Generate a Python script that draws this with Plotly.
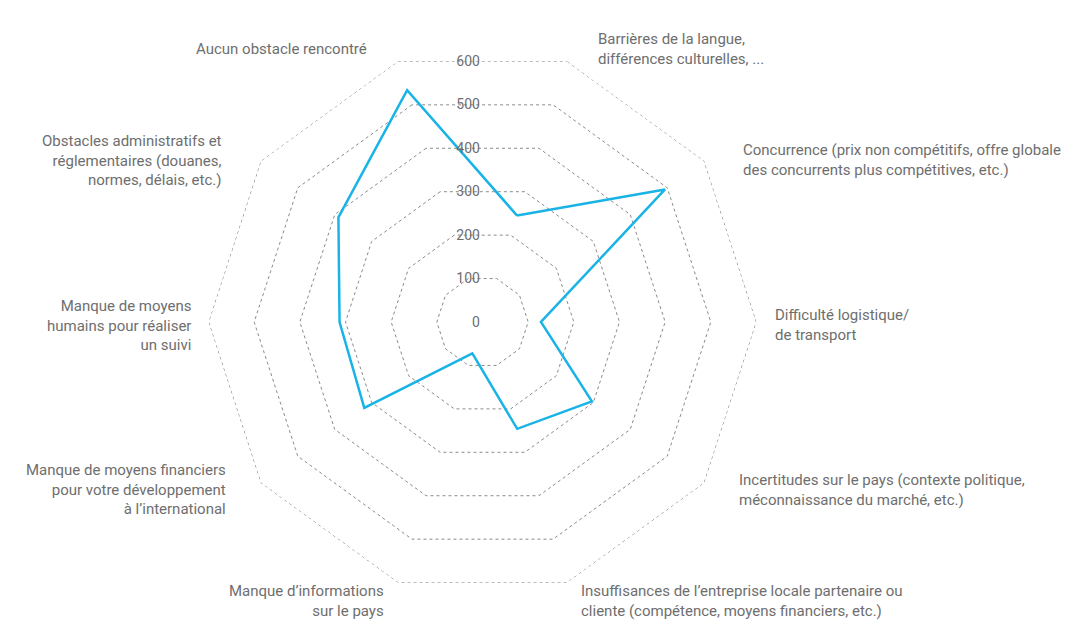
import math
import plotly.graph_objects as go

categories = [
    "Barrières de la langue,<br>différences culturelles, ...",
    "Concurrence (prix non compétitifs, offre globale<br>des concurrents plus compétitives, etc.)",
    "Difficulté logistique/<br>de transport",
    "Incertitudes sur le pays (contexte politique,<br>méconnaissance du marché, etc.)",
    "Insuffisances de l’entreprise locale partenaire ou<br>cliente (compétence, moyens financiers, etc.)",
    "Manque d’informations<br>sur le pays",
    "Manque de moyens financiers<br>pour votre développement<br>à l’international",
    "Manque de moyens<br>humains pour réaliser<br>un suivi",
    "Obstacles administratifs et<br>réglementaires (douanes,<br>normes, délais, etc.)",
    "Aucun obstacle rencontré",
]
values = [245, 494, 128, 296, 246, 72, 320, 313, 390, 534]
radial_ticks = [0, 100, 200, 300, 400, 500, 600]

W, H = 1086, 630
FONT = "Roboto, sans-serif"
TEXT = "#6e6e6e"
GRID = "#8a8a8a"
LINE = "#19b3e6"

# centre / radius of the web in figure pixels
cx, cy, R = 474.5, 314, 274
ROT = 72
N = len(categories)
rmax = radial_ticks[-1]
dom_x = [(cx - R) / W, (cx + R) / W]
dom_y = [(H - cy - R) / H, (H - cy + R) / H]

fig = go.Figure()
# outer ring (plotly drops the grid line sitting on the range end)
fig.add_trace(go.Scatterpolar(
    r=[rmax] * (N + 1),
    theta=categories + categories[:1],
    mode="lines",
    line=dict(color="#6f6f6f", width=1, dash="dot"),
    hoverinfo="skip",
    showlegend=False,
))
fig.add_trace(go.Scatterpolar(
    r=values + values[:1],
    theta=categories + categories[:1],
    mode="lines",
    line=dict(color=LINE, width=2.5),
    hoverinfo="r+theta",
    showlegend=False,
))
# helper subplot only carrying the vertical 0..600 scale labels
fig.add_trace(go.Scatterpolar(
    r=[0], theta=[0], subplot="polar2", mode="markers",
    marker=dict(opacity=0), hoverinfo="skip", showlegend=False,
))

# category labels placed just outside each spoke
annotations = []
for i, name in enumerate(categories):
    a = math.radians(ROT - 360 / N * i)
    c, s = math.cos(a), math.sin(a)
    side = 1 if c > 0.1 else (-1 if c < -0.1 else 0)
    dx = side * (16 + 22 * abs(math.sin(2 * a)) - 20 * max(0, -s) ** 3)
    px = cx + R * c + dx
    py = cy - R * s - 18 * s ** 3 + 3
    annotations.append(dict(
        text=name, x=px / W, y=1 - py / H, xref="paper", yref="paper",
        xanchor={1: "left", -1: "right", 0: "center"}[side],
        yanchor="middle", align={1: "left", -1: "right", 0: "center"}[side],
        showarrow=False, font=dict(family=FONT, size=15, color=TEXT),
    ))

fig.update_layout(
    width=W, height=H,
    margin=dict(l=0, r=0, t=0, b=0, autoexpand=False),
    paper_bgcolor="white",
    font=dict(family=FONT, size=15, color=TEXT),
    annotations=annotations,
    polar=dict(
        domain=dict(x=dom_x, y=dom_y),
        bgcolor="white",
        gridshape="linear",
        radialaxis=dict(
            range=[0, rmax],
            tickvals=radial_ticks,
            showticklabels=False,
            showline=False,
            ticks="",
            gridcolor=GRID,
            griddash="dot",
            gridwidth=1,
        ),
        angularaxis=dict(
            rotation=ROT,
            direction="clockwise",
            showgrid=False,
            showline=False,
            showticklabels=False,
            ticks="",
        ),
    ),
    polar2=dict(
        domain=dict(x=dom_x, y=dom_y),
        bgcolor="rgba(0,0,0,0)",
        radialaxis=dict(
            # labels sit on the flat top edges of the web
            range=[0, rmax / math.sin(math.radians(ROT))],
            tickvals=radial_ticks,
            angle=90,
            tickangle=90,
            side="counterclockwise",
            showgrid=False,
            showline=False,
            ticks="",
            tickfont=dict(family=FONT, size=14, color=TEXT),
        ),
        angularaxis=dict(visible=False),
    ),
)

fig.write_html("out.html")
